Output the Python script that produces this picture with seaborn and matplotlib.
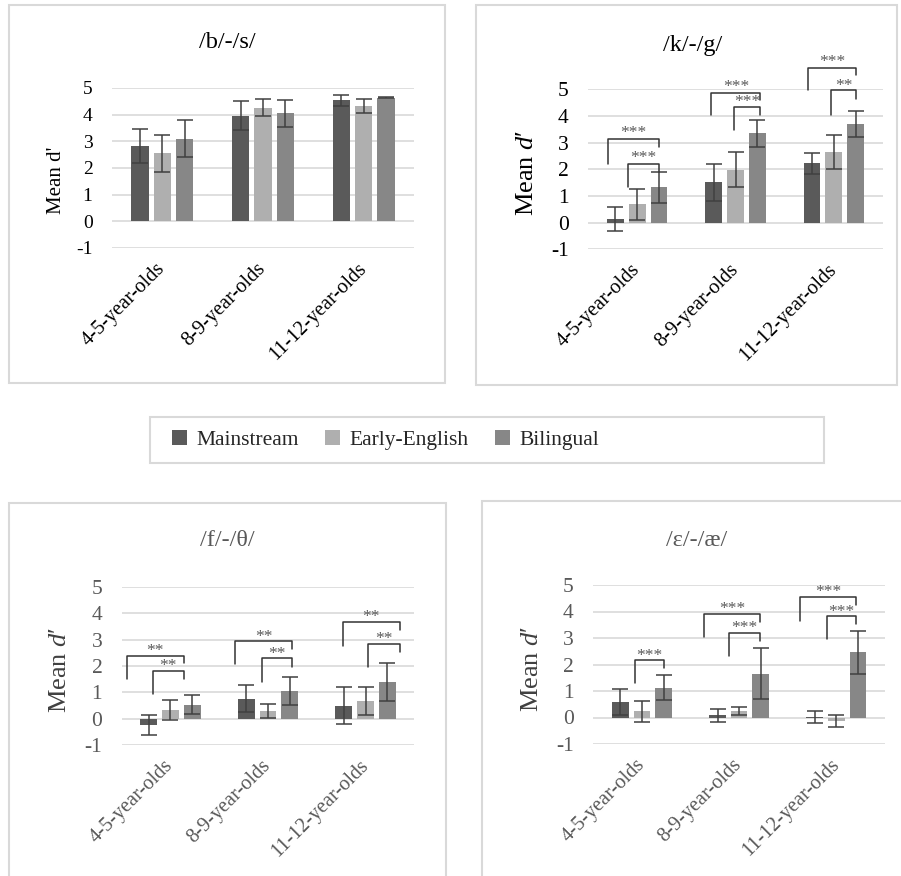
import numpy as np
import pandas as pd
import matplotlib
matplotlib.use("Agg")
import matplotlib.pyplot as plt
import seaborn as sns
from matplotlib.patches import Rectangle, Patch

# ---------------- data ----------------
ages = ["4-5-year-olds", "8-9-year-olds", "11-12-year-olds"]
groups = ["Mainstream", "Early-English", "Bilingual"]
group_colors = ["#5a5a5a", "#afafaf", "#878787"]

# /b/-/s/
bs_main = [2.83, 3.96, 4.54]
bs_early = [2.55, 4.26, 4.32]
bs_bil = [3.10, 4.05, 4.64]
bs_main_sd = [0.65, 0.55, 0.20]
bs_early_sd = [0.70, 0.31, 0.27]
bs_bil_sd = [0.70, 0.50, 0.01]

# /k/-/g/
kg_main = [0.13, 1.51, 2.23]
kg_early = [0.69, 1.99, 2.65]
kg_bil = [1.33, 3.35, 3.70]
kg_main_sd = [0.45, 0.68, 0.40]
kg_early_sd = [0.58, 0.65, 0.65]
kg_bil_sd = [0.58, 0.50, 0.47]

# /f/-/θ/
ft_main = [-0.22, 0.77, 0.50]
ft_early = [0.33, 0.30, 0.67]
ft_bil = [0.54, 1.06, 1.40]
ft_main_sd = [0.38, 0.50, 0.70]
ft_early_sd = [0.38, 0.28, 0.53]
ft_bil_sd = [0.35, 0.52, 0.71]

# /ɛ/-/æ/
ea_main = [0.59, 0.08, 0.02]
ea_early = [0.24, 0.25, -0.14]
ea_bil = [1.13, 1.66, 2.46]
ea_main_sd = [0.50, 0.25, 0.24]
ea_early_sd = [0.40, 0.14, 0.23]
ea_bil_sd = [0.46, 0.95, 0.80]

# significance brackets: (age index, left dx, right dx, top, left foot, right foot, label, label y)
kg_sig = [
    (0, -0.298, 0.220, 3.125, 2.20, 2.85, "***", 3.54),
    (0, -0.095, 0.220, 2.200, 1.35, 1.90, "***", 2.60),
    (1, -0.247, 0.254, 4.875, 4.04, 4.60, "***", 5.29),
    (1, -0.020, 0.254, 4.325, 3.475, 4.04, "***", 4.70),
    (2, -0.264, 0.227, 5.810, 4.975, 5.54, "***", 6.225),
    (2, -0.027, 0.227, 4.975, 4.04, 4.64, "**", 5.31),
]
ft_sig = [
    (0, -0.450, 0.140, 2.39, 1.49, 2.10, "**", 2.77),
    (0, -0.184, 0.140, 1.82, 0.93, 1.49, "**", 2.18),
    (1, -0.334, 0.249, 2.94, 2.06, 2.64, "**", 3.30),
    (1, -0.061, 0.249, 2.29, 1.40, 1.97, "**", 2.66),
    (2, -0.235, 0.352, 3.65, 2.77, 3.36, "**", 4.03),
    (2, 0.027, 0.352, 2.85, 1.97, 2.54, "**", 3.23),
]
ea_sig = [
    (0, -0.075, 0.229, 2.17, 1.29, 1.85, "***", 2.52),
    (1, -0.360, 0.212, 3.91, 3.03, 3.62, "***", 4.27),
    (1, -0.103, 0.212, 3.18, 2.32, 2.90, "***", 3.56),
    (2, -0.370, 0.205, 4.54, 3.66, 4.25, "***", 4.94),
    (2, -0.096, 0.205, 3.83, 2.95, 3.53, "***", 4.16),
]

# ---------------- style ----------------
sns.set_style("white")
plt.rcParams["font.family"] = ["Liberation Serif", "DejaVu Serif"]
plt.rcParams["axes.unicode_minus"] = False
plt.rcParams["mathtext.fontset"] = "custom"
plt.rcParams["mathtext.rm"] = "Liberation Serif"
plt.rcParams["mathtext.it"] = "Liberation Serif:italic"

W, H = 901, 876
fig = plt.figure(figsize=(W / 100, H / 100), dpi=100)


def fx(px):
    return px / W


def fy(py):
    return 1 - py / H


def add_axes(x0, x1, ytop, ybot):
    return fig.add_axes([fx(x0), fy(ybot), fx(x1) - fx(x0), (ybot - ytop) / H])


def frame(x0, y0, x1, y1):
    fig.add_artist(Rectangle((fx(x0), fy(y1)), fx(x1) - fx(x0), (y1 - y0) / H,
                             transform=fig.transFigure, fill=False,
                             edgecolor="#d9d9d9", lw=1.5, clip_on=False))


def draw_panel(ax, means, sds, sig, tick_color, ytick_size):
    rows = []
    for g, vals in zip(groups, means):
        for a, v in zip(ages, vals):
            rows.append({"age": a, "group": g, "d": v})
    df = pd.DataFrame(rows)
    sns.barplot(data=df, x="age", y="d", hue="group", order=ages, hue_order=groups,
                palette=group_colors, width=0.667, gap=0.23, saturation=1,
                errorbar=None, legend=False, linewidth=0, ax=ax)
    for cont, vals, errs in zip(ax.containers, means, sds):
        xs = [p.get_x() + p.get_width() / 2 for p in cont]
        ax.errorbar(xs, vals, yerr=errs, fmt="none", ecolor="#404040",
                    elinewidth=1.1, capsize=5.5, capthick=1.1, zorder=4)
    ax.set_xlim(-0.5, 2.5)
    ax.set_ylim(-1, 5)
    ax.set_yticks(range(-1, 6))
    ax.yaxis.grid(True, color="#d9d9d9", lw=1.2)
    ax.xaxis.grid(False)
    ax.set_axisbelow(True)
    for s in ax.spines.values():
        s.set_visible(False)
    ax.set_xlabel("")
    ax.set_ylabel("")
    ax.tick_params(axis="y", length=0, pad=14, labelsize=ytick_size, labelcolor=tick_color)
    ax.tick_params(axis="x", length=0, pad=13, labelsize=14.7, labelcolor=tick_color)
    for lab in ax.get_xticklabels():
        lab.set_rotation(45)
        lab.set_ha("right")
        lab.set_va("center")
        lab.set_rotation_mode("anchor")
    centers = ax.get_xticks()
    for idx, dl, dr, top, yl, yr, txt, ty in sig:
        c = centers[idx]
        ax.plot([c + dl, c + dl, c + dr, c + dr], [yl, top, top, yr],
                color="#333333", lw=1.1, clip_on=False, zorder=5)
        ax.annotate(txt, xy=(c + (dl + dr) / 2, ty), xytext=(0, -6.5),
                    textcoords="offset points", ha="center", va="baseline",
                    fontsize=12.5, color="#595959", annotation_clip=False)


# panel frames
frame(9, 5, 445, 383)
frame(476, 5, 897, 385)
frame(9, 503, 446, 885)
frame(482, 501, 910, 885)
frame(150, 417, 824, 463)

ax1 = add_axes(112, 414, 88, 248)
draw_panel(ax1, [bs_main, bs_early, bs_bil], [bs_main_sd, bs_early_sd, bs_bil_sd], [], "#000000", 14)
ax2 = add_axes(588, 883, 89.3, 249.3)
draw_panel(ax2, [kg_main, kg_early, kg_bil], [kg_main_sd, kg_early_sd, kg_bil_sd], kg_sig, "#000000", 15.5)
ax3 = add_axes(121.7, 414.3, 586.7, 745.3)
draw_panel(ax3, [ft_main, ft_early, ft_bil], [ft_main_sd, ft_early_sd, ft_bil_sd], ft_sig, "#595959", 15.5)
ax4 = add_axes(593.3, 885, 585, 744)
draw_panel(ax4, [ea_main, ea_early, ea_bil], [ea_main_sd, ea_early_sd, ea_bil_sd], ea_sig, "#595959", 15.5)

# titles
fig.text(fx(227), fy(43), "/b/-/s/", ha="center", va="center", fontsize=17.5, color="#000000")
fig.text(fx(693), fy(46), "/k/-/g/", ha="center", va="center", fontsize=17.5, color="#000000")
fig.text(fx(227), fy(540), "/f/-/θ/", ha="center", va="center", fontsize=17.5, color="#595959")
fig.text(fx(697), fy(540), "/ɛ/-/æ/", ha="center", va="center", fontsize=17.5, color="#595959")

# y-axis labels
fig.text(fx(57), fy(180), "Mean d'", rotation=90, ha="center", va="center", fontsize=15, color="#000000")
fig.text(fx(527), fy(173), "Mean $\\mathit{d}$′", rotation=90, ha="center", va="center", fontsize=19, color="#000000")
fig.text(fx(60), fy(670), "Mean $\\mathit{d}$′", rotation=90, ha="center", va="center", fontsize=19, color="#404040")
fig.text(fx(532), fy(669), "Mean $\\mathit{d}$′", rotation=90, ha="center", va="center", fontsize=19, color="#404040")

# shared legend
handles = [Patch(facecolor=c, edgecolor="none") for c in group_colors]
fig.legend(handles, groups, loc="center left", bbox_to_anchor=(fx(172), fy(440)),
           ncol=3, frameon=False, prop={"family": "Liberation Serif", "size": 15.5},
           handlelength=0.7, handleheight=0.7,
           handletextpad=0.45, columnspacing=1.2, borderaxespad=0, borderpad=0)

fig.savefig("out.png", dpi=100)
